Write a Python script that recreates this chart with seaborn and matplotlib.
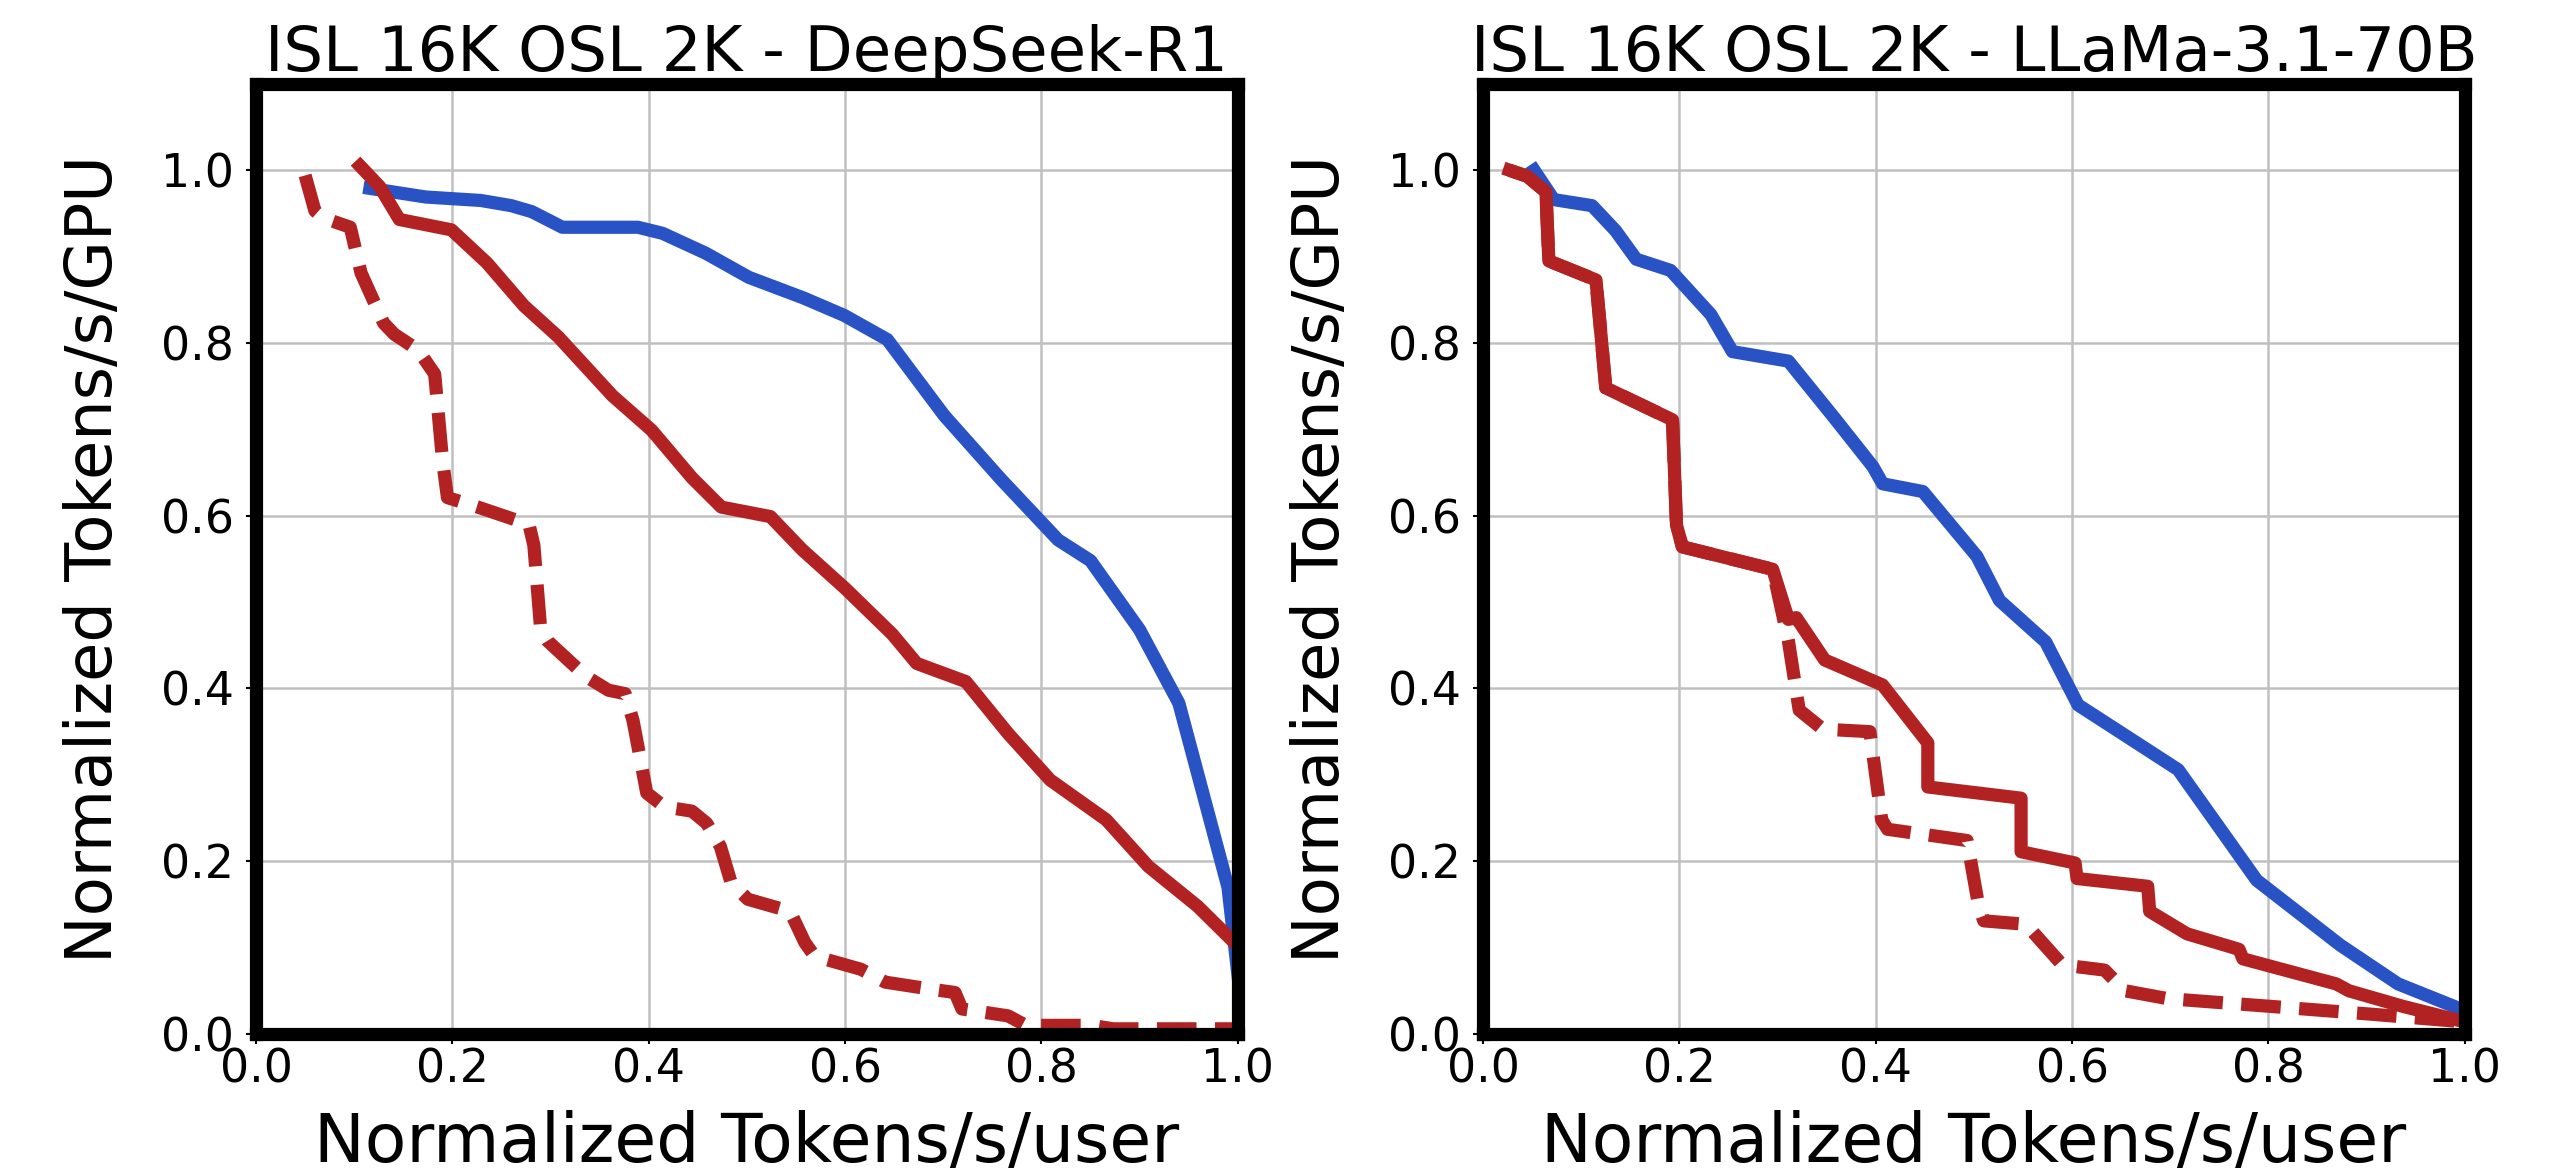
import matplotlib
matplotlib.use("Agg")
import matplotlib.pyplot as plt
import seaborn as sns
import pandas as pd

# ---------------- data ----------------
titles = ["ISL 16K OSL 2K - DeepSeek-R1", "ISL 16K OSL 2K - LLaMa-3.1-70B"]
x_label = "Normalized Tokens/s/user"
y_label = "Normalized Tokens/s/GPU"
ticks = [0.0, 0.2, 0.4, 0.6, 0.8, 1.0]

# DeepSeek-R1
ds_blue_x = [0.116, 0.173, 0.229, 0.26, 0.281, 0.312, 0.389, 0.414, 0.458, 0.502, 0.558, 0.599,
             0.643, 0.701, 0.759, 0.817, 0.85, 0.9, 0.94, 0.99, 1.0]
ds_blue_y = [0.979, 0.969, 0.965, 0.959, 0.952, 0.934, 0.934, 0.927, 0.904, 0.876, 0.852, 0.832,
             0.804, 0.716, 0.642, 0.572, 0.548, 0.468, 0.383, 0.17, 0.07]
ds_red_x = [0.106, 0.126, 0.146, 0.199, 0.235, 0.273, 0.308, 0.363, 0.403, 0.444, 0.474, 0.524,
            0.556, 0.6, 0.648, 0.673, 0.723, 0.766, 0.809, 0.866, 0.909, 0.959, 1.0]
ds_red_y = [1.005, 0.981, 0.943, 0.931, 0.893, 0.843, 0.807, 0.739, 0.699, 0.644, 0.61, 0.599,
            0.561, 0.516, 0.463, 0.429, 0.408, 0.348, 0.294, 0.248, 0.194, 0.148, 0.102]
ds_dash_x = [0.05, 0.06, 0.068, 0.096, 0.107, 0.13, 0.141, 0.165, 0.182, 0.19, 0.195, 0.226,
             0.278, 0.283, 0.29, 0.297, 0.336, 0.359, 0.376, 0.384, 0.398, 0.416, 0.444, 0.459,
             0.473, 0.484, 0.501, 0.544, 0.559, 0.569, 0.616, 0.641, 0.687, 0.712, 0.719, 0.766,
             0.784, 0.851, 0.873, 1.0]
ds_dash_y = [0.994, 0.953, 0.945, 0.934, 0.881, 0.823, 0.81, 0.792, 0.764, 0.664, 0.621, 0.61,
             0.59, 0.566, 0.468, 0.455, 0.414, 0.398, 0.394, 0.363, 0.279, 0.263, 0.258, 0.244,
             0.217, 0.175, 0.156, 0.142, 0.106, 0.09, 0.075, 0.06, 0.052, 0.048, 0.029, 0.021,
             0.01, 0.01, 0.006, 0.006]

# LLaMa-3.1-70B
ll_blue_x = [0.052, 0.072, 0.111, 0.135, 0.156, 0.191, 0.232, 0.254, 0.311, 0.358, 0.397, 0.407,
             0.448, 0.503, 0.526, 0.573, 0.606, 0.708, 0.788, 0.873, 0.932, 1.0]
ll_blue_y = [1.0, 0.966, 0.959, 0.93, 0.897, 0.884, 0.833, 0.79, 0.779, 0.713, 0.657, 0.637,
             0.628, 0.553, 0.502, 0.454, 0.381, 0.306, 0.178, 0.103, 0.058, 0.027]
ll_red_x = [0.027, 0.045, 0.064, 0.067, 0.115, 0.125, 0.193, 0.197, 0.203, 0.295, 0.311, 0.319,
            0.348, 0.407, 0.453, 0.453, 0.548, 0.548, 0.603, 0.605, 0.677, 0.679, 0.717, 0.77,
            0.774, 0.869, 0.882, 0.937, 1.0]
ll_red_y = [1.0, 0.993, 0.975, 0.895, 0.873, 0.748, 0.711, 0.589, 0.564, 0.538, 0.48, 0.482,
            0.433, 0.404, 0.337, 0.286, 0.273, 0.211, 0.198, 0.18, 0.171, 0.142, 0.116, 0.098,
            0.087, 0.058, 0.05, 0.032, 0.014]
ll_dash_x = [0.027, 0.045, 0.064, 0.067, 0.115, 0.125, 0.193, 0.197, 0.203, 0.295, 0.311, 0.322,
             0.346, 0.394, 0.406, 0.412, 0.493, 0.505, 0.51, 0.553, 0.59, 0.633, 0.654, 0.697,
             0.802, 0.904, 1.0]
ll_dash_y = [1.0, 0.993, 0.975, 0.895, 0.873, 0.748, 0.711, 0.589, 0.564, 0.538, 0.455, 0.375,
             0.353, 0.35, 0.248, 0.237, 0.224, 0.147, 0.131, 0.127, 0.08, 0.074, 0.05, 0.041,
             0.032, 0.023, 0.014]

panels = [
    (ds_blue_x, ds_blue_y, ds_red_x, ds_red_y, ds_dash_x, ds_dash_y),
    (ll_blue_x, ll_blue_y, ll_red_x, ll_red_y, ll_dash_x, ll_dash_y),
]

BLUE = "#2952C4"
RED = "#B22222"
LW = 9.5

plt.rcParams['font.family'] = ['DejaVu Sans']
fig = plt.figure(figsize=(25.5, 11.73), dpi=100)
axes = [fig.add_axes([0.1004, 0.1185, 0.385, 0.810]),
        fig.add_axes([0.5816, 0.1185, 0.385, 0.810])]

for ax, title, (bx, by, rx, ry, dx, dy) in zip(axes, titles, panels):
    sns.lineplot(x=bx, y=by, ax=ax, color=BLUE, lw=LW, sort=False, estimator=None)
    sns.lineplot(x=rx, y=ry, ax=ax, color=RED, lw=LW, sort=False, estimator=None)
    sns.lineplot(x=dx, y=dy, ax=ax, color=RED, lw=LW, sort=False, estimator=None,
                 dashes=False)
    ax.lines[-1].set_dashes((3.0, 1.4))
    ax.set_xlim(0, 1.0)
    ax.set_ylim(0, 1.1)
    ax.set_xticks(ticks)
    ax.set_yticks(ticks)
    ax.set_xticklabels([f"{t:.1f}" for t in ticks])
    ax.set_yticklabels([f"{t:.1f}" for t in ticks])
    ax.grid(True, color="#c0c0c0", lw=1.8)
    ax.set_axisbelow(True)
    for sp in ax.spines.values():
        sp.set_linewidth(9.5)
        sp.set_color("black")
        sp.set_zorder(5)
    ax.tick_params(axis="both", labelsize=33, length=7, width=1.5)
    ax.tick_params(axis="x", pad=3)
    ax.tick_params(axis="y", pad=9)
    ax.set_title(title, fontsize=45, pad=8)
    ax.set_xlabel(x_label, fontsize=49, labelpad=12)
    ax.set_ylabel(y_label, fontsize=46, labelpad=26)

fig.savefig("out.png", dpi=100, facecolor="white")
